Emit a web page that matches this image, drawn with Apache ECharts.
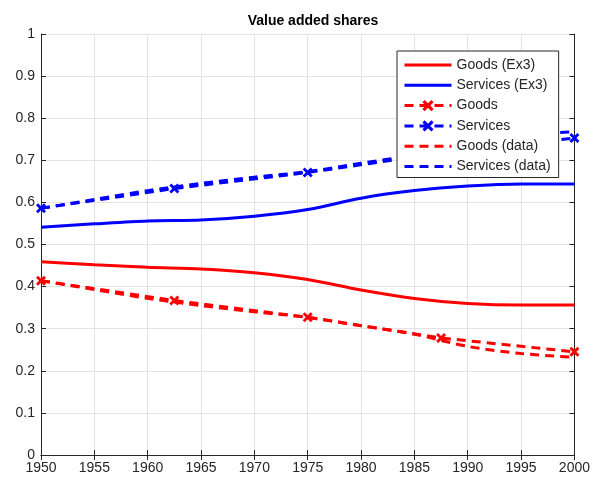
<!DOCTYPE html>
<html>
<head>
<meta charset="utf-8">
<script src="https://cdn.jsdelivr.net/npm/echarts@6/dist/echarts.min.js"></script>
<style>
  html, body { margin: 0; padding: 0; background: #fff; }
  #chart { width: 593px; height: 484px; }
</style>
</head>
<body>
<div id="chart"></div>
<script>
// years for the Ex3 curves and the data curves
const years = [1950, 1955, 1960, 1965, 1970, 1975, 1980, 1985, 1990, 1995, 2000]
// years where the model markers sit
const modelYears = [1950, 1962.5, 1975, 1987.5, 2000]

const goodsEx3 = [0.459, 0.452, 0.446, 0.442, 0.433, 0.417, 0.392, 0.372, 0.360, 0.356, 0.356]
const servicesEx3 = [0.541, 0.549, 0.556, 0.558, 0.567, 0.583, 0.610, 0.628, 0.639, 0.644, 0.644]
const goodsModel = [0.414, 0.367, 0.327, 0.278, 0.245]
const servicesModel = [0.586, 0.633, 0.671, 0.717, 0.753]
const goodsData = [0.414, 0.393, 0.372, 0.355, 0.340, 0.327, 0.307, 0.287, 0.258, 0.241, 0.232]
const servicesData = [0.586, 0.607, 0.628, 0.645, 0.660, 0.673, 0.693, 0.713, 0.742, 0.759, 0.768]

const yTicks = [0, 0.1, 0.2, 0.3, 0.4, 0.5, 0.6, 0.7, 0.8, 0.9, 1]

const RED = '#ff0000'
const BLUE = '#0000ff'
const FONT = '"Liberation Sans", Arial, sans-serif'
const AXIS = '#262626'
// thick "x" marker
const xMark = 'path://M0,2L2,0L5,3L8,0L10,2L7,5L10,8L8,10L5,7L2,10L0,8L3,5Z'

function pairs(xs, ys) {
  return xs.map(function (x, i) { return [x, ys[i]] })
}
// legend entry with line only (hide the dot)
function lineOnly(name) {
  return { name: name, itemStyle: { opacity: 0 } }
}

const chart = echarts.init(document.getElementById('chart'))

const baseX = {
  type: 'value',
  min: 1950,
  max: 2000,
  interval: 5,
  axisLine: { show: true, lineStyle: { color: AXIS, width: 1 } },
  axisTick: { show: true, inside: true, length: 5, lineStyle: { color: AXIS } },
  splitLine: { show: true, lineStyle: { color: '#e3e3e3', width: 1 } }
}
const baseY = {
  type: 'value',
  min: 0,
  max: 1,
  interval: 0.1,
  axisLine: { show: true, lineStyle: { color: AXIS, width: 1 } },
  axisTick: { show: true, inside: true, length: 5, lineStyle: { color: AXIS } },
  splitLine: { show: true, lineStyle: { color: '#e3e3e3', width: 1 } }
}

const options = {
  backgroundColor: '#ffffff',
  animation: false,
  title: {
    text: 'Value added shares',
    left: 308,
    textAlign: 'center',
    top: 9,
    textStyle: { fontFamily: FONT, fontSize: 14, fontWeight: 'bold', color: '#000' }
  },
  grid: { left: 41, right: 18, top: 34, bottom: 29 },
  legend: {
    orient: 'vertical',
    left: 397,
    top: 51,
    z: 10,
    padding: [7, 8, 4, 6],
    itemWidth: 47,
    itemHeight: 14,
    itemGap: 6.3,
    backgroundColor: '#fff',
    borderColor: '#262626',
    borderWidth: 1,
    lineStyle: { width: 3 },
    textStyle: { fontFamily: FONT, fontSize: 14, color: '#262626' },
    data: [
      lineOnly('Goods (Ex3)'), lineOnly('Services (Ex3)'),
      'Goods', 'Services',
      lineOnly('Goods (data)'), lineOnly('Services (data)')
    ]
  },
  xAxis: [
    Object.assign({}, baseX, {
      position: 'bottom',
      axisLabel: {
        fontFamily: FONT, fontSize: 14, color: AXIS, margin: 6,
        formatter: function (v) { return String(v) }
      }
    }),
    Object.assign({}, baseX, {
      position: 'top',
      axisLabel: { show: false },
      splitLine: { show: false }
    })
  ],
  yAxis: [
    Object.assign({}, baseY, {
      position: 'left',
      axisLabel: {
        fontFamily: FONT, fontSize: 14, color: AXIS, margin: 6,
        formatter: function (v) {
          const t = yTicks.find(function (k) { return Math.abs(k - v) < 1e-9 })
          return t === undefined ? '' : String(t)
        }
      }
    }),
    Object.assign({}, baseY, {
      position: 'right',
      axisLabel: { show: false },
      splitLine: { show: false }
    })
  ],
  series: [
    {
      name: 'Goods (Ex3)', type: 'line', smooth: 0.3, symbol: 'none',
      lineStyle: { color: RED, width: 3 }, itemStyle: { color: RED },
      data: pairs(years, goodsEx3)
    },
    {
      name: 'Services (Ex3)', type: 'line', smooth: 0.3, symbol: 'none',
      lineStyle: { color: BLUE, width: 3 }, itemStyle: { color: BLUE },
      data: pairs(years, servicesEx3)
    },
    {
      name: 'Goods', type: 'line', symbol: xMark, symbolSize: 10, showAllSymbol: true,
      lineStyle: { color: RED, width: 3, type: [9, 6] }, itemStyle: { color: RED },
      data: pairs(modelYears, goodsModel)
    },
    {
      name: 'Services', type: 'line', symbol: xMark, symbolSize: 10, showAllSymbol: true,
      lineStyle: { color: BLUE, width: 3, type: [9, 6] }, itemStyle: { color: BLUE },
      data: pairs(modelYears, servicesModel)
    },
    {
      name: 'Goods (data)', type: 'line', smooth: 0.3, symbol: 'none',
      lineStyle: { color: RED, width: 3, type: [9, 6] }, itemStyle: { color: RED },
      data: pairs(years, goodsData)
    },
    {
      name: 'Services (data)', type: 'line', smooth: 0.3, symbol: 'none',
      lineStyle: { color: BLUE, width: 3, type: [9, 6] }, itemStyle: { color: BLUE },
      data: pairs(years, servicesData)
    }
  ]
}

chart.setOption(options)
</script>
</body>
</html>
